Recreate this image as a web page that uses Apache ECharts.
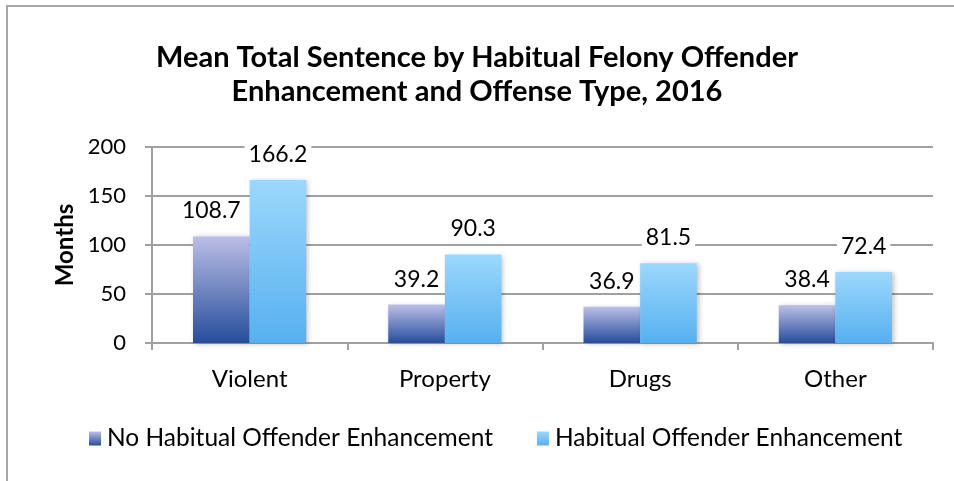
<!DOCTYPE html>
<html>
<head>
<meta charset="utf-8">
<script src="https://cdn.jsdelivr.net/npm/echarts@6/dist/echarts.min.js"></script>
<style>
  html, body { margin: 0; padding: 0; background: #fff; }
  #chart { width: 954px; height: 481px; }
</style>
</head>
<body>
<div id="chart"></div>
<script>
// Offense types on the category axis
const categories = ['Violent', 'Property', 'Drugs', 'Other'];
// Mean total sentence (months)
const noEnhancement = [108.7, 39.2, 36.9, 38.4];
const withEnhancement = [166.2, 90.3, 81.5, 72.4];
// Value axis ticks
const yTicks = [0, 50, 100, 150, 200];

const seriesNames = ['No Habitual Offender Enhancement', 'Habitual Offender Enhancement'];

const FONT = 'Lato, "Open Sans", sans-serif';

function vGrad(top, bottom) {
  return new echarts.graphic.LinearGradient(0, 0, 0, 1, [
    { offset: 0, color: top },
    { offset: 1, color: bottom }
  ]);
}

const labelBase = {
  show: true,
  position: 'top',
  distance: 14,
  fontFamily: FONT,
  fontSize: 23,
  color: '#000',
  backgroundColor: '#fff',
  padding: [0, 4]
};

const shadow = {
  shadowBlur: 5,
  shadowOffsetX: 2,
  shadowOffsetY: 1,
  shadowColor: 'rgba(0,0,0,0.25)'
};

const chart = echarts.init(document.getElementById('chart'), null, { renderer: 'canvas' });

chart.setOption({
  animation: false,
  backgroundColor: '#fff',
  title: {
    text: 'Mean Total Sentence by Habitual Felony Offender\nEnhancement and Offense Type, 2016',
    left: 'center',
    top: 36,
    textStyle: {
      fontFamily: FONT,
      fontWeight: 'bold',
      fontSize: 29,
      lineHeight: 34,
      color: '#000'
    }
  },
  graphic: [{
    type: 'rect',
    shape: { x: 7, y: 6, width: 980, height: 520 },
    style: { fill: 'none', stroke: '#a6a6a6', lineWidth: 2 },
    silent: true
  }],
  legend: {
    data: seriesNames,
    left: 89,
    top: 426,
    padding: 0,
    itemWidth: 12,
    itemHeight: 14,
    itemGap: 44,
    icon: 'rect',
    textStyle: { fontFamily: FONT, fontSize: 24.5, color: '#000', padding: [0, 0, 0, 1] }
  },
  grid: { left: 152, right: 21, top: 147, bottom: 138 },
  xAxis: {
    type: 'category',
    data: categories,
    axisLine: { lineStyle: { color: '#a0a0a0', width: 2 } },
    axisTick: { show: true, length: 7, lineStyle: { color: '#a0a0a0', width: 2 } },
    axisLabel: { fontFamily: FONT, fontSize: 24, color: '#000', margin: 24 }
  },
  yAxis: {
    type: 'value',
    min: yTicks[0],
    max: yTicks[yTicks.length - 1],
    interval: yTicks[1] - yTicks[0],
    name: 'Months',
    nameLocation: 'middle',
    nameGap: 74,
    nameTextStyle: { fontFamily: FONT, fontWeight: 'bold', fontSize: 24, color: '#000' },
    axisLine: { show: true, lineStyle: { color: '#a0a0a0', width: 2 } },
    axisTick: { show: true, length: 7, lineStyle: { color: '#a0a0a0', width: 2 } },
    axisLabel: { fontFamily: FONT, fontSize: 22, color: '#000', margin: 26 },
    splitLine: { lineStyle: { color: '#a0a0a0', width: 2 } }
  },
  series: [
    {
      name: seriesNames[0],
      type: 'bar',
      barGap: '0%',
      barCategoryGap: '42%',
      data: noEnhancement.map((v, i) => i === 0 ? { value: v, label: { offset: [-10, 0] } } : v),
      itemStyle: Object.assign({ color: vGrad('#bbbfe6', '#264d9b') }, shadow),
      label: labelBase
    },
    {
      name: seriesNames[1],
      type: 'bar',
      barGap: '0%',
      barCategoryGap: '42%',
      data: withEnhancement,
      itemStyle: Object.assign({ color: vGrad('#9cd8fc', '#56b0f0') }, shadow),
      label: labelBase
    }
  ]
});
</script>
</body>
</html>
